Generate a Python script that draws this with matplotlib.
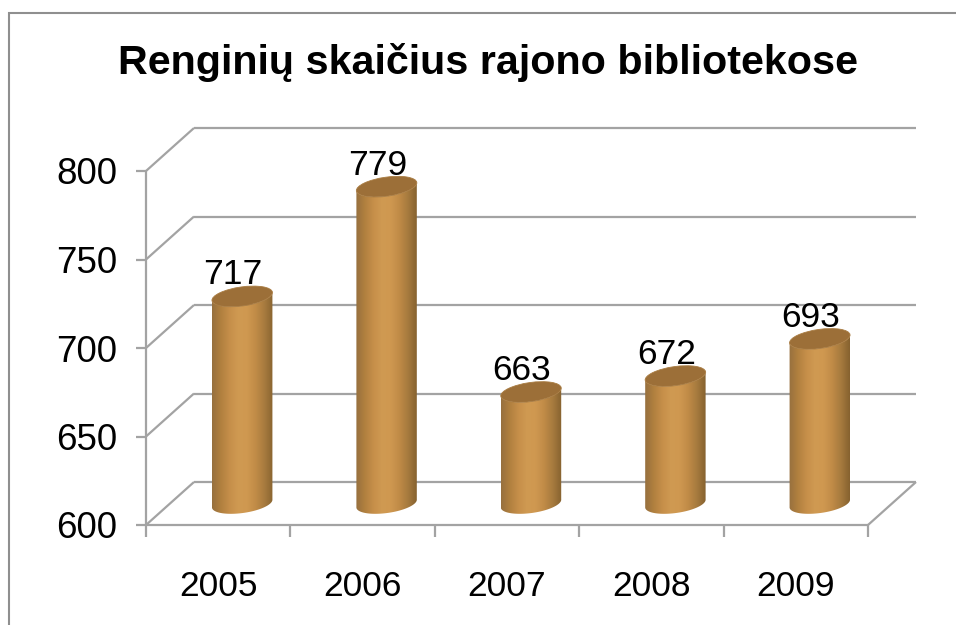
import numpy as np
import matplotlib
matplotlib.use("Agg")
import matplotlib.pyplot as plt
from matplotlib.patches import Ellipse, PathPatch
from matplotlib.path import Path
from matplotlib.colors import LinearSegmentedColormap
from matplotlib.transforms import IdentityTransform

years = ["2005", "2006", "2007", "2008", "2009"]
events = [717, 779, 663, 672, 693]
y_ticks = [600, 650, 700, 750, 800]
title = "Renginių skaičius rajono bibliotekose"

W, H = 956, 625
plt.rcParams["font.family"] = ["Liberation Sans", "DejaVu Sans"]
fig = plt.figure(figsize=(W / 100, H / 100), dpi=100)
fig.patch.set_facecolor("white")
L, R, T, B = 146, 868, 171, 525
ax = fig.add_axes([L / W, 1 - B / H, (R - L) / W, (B - T) / H])
ax.set_xlim(0, len(years))
ax.set_ylim(600, 800)
ax.axis("off")
ID = IdentityTransform()
GRID = "#a3a3a3"
DX, DY = 48, 43  # wall depth, pixels

# frame: only the top and left edges are visible
BX, BY = 8.5, H - 13
fig.add_artist(plt.Line2D([BX, BX, W], [0, BY, BY], color="#8f8f8f", lw=1.5,
                          transform=ID, solid_joinstyle="miter"))

def px(x, v):
    return ax.transData.transform((x, v))

def line(p, q, lw=1.6):
    ax.plot([p[0], q[0]], [p[1], q[1]], color=GRID, lw=lw, transform=ID,
            clip_on=False, solid_capstyle="butt")

# walls, gridlines and ticks
for v in y_ticks:
    f = px(0, v)
    bk = f + (DX, DY)
    br = px(len(years), v) + (DX, DY)
    line(f, bk)
    line(bk, br)
    line(f - (10, 0), f)
    fig.text((f[0] - 29) / W, f[1] / H, str(v), ha="right", va="center_baseline",
             fontsize=26.5, color="black")
line(px(0, 600), px(0, 800))
line(px(0, 600), px(len(years), 600))
line(px(len(years), 600), px(len(years), 600) + (DX, DY))
for i in range(len(years) + 1):
    p = px(i, 600)
    line(p, p - (0, 12))
for i, y in enumerate(years):
    p = px(i + 0.5, 600)
    fig.text(p[0] / W, (p[1] - 58) / H, y, ha="center", va="center_baseline",
             fontsize=25.5, color="black")

# cylinders
cmap = LinearSegmentedColormap.from_list(
    "cyl", ["#97703e", "#b1803f", "#c68f4a", "#d09a52", "#cf9850", "#c08b47", "#a67a3e", "#86622f"])
grad = np.linspace(0, 1, 128).reshape(1, -1)
RW, RH, ANG = 30.5, 9.5, 8.0
ca, sa = np.cos(np.radians(ANG)), np.sin(np.radians(ANG))

def ell(cx, cy, t):
    return np.column_stack([cx + RW * np.cos(t) * ca - RH * np.sin(t) * sa,
                            cy + RW * np.cos(t) * sa + RH * np.sin(t) * ca])

for i, (y, v) in enumerate(zip(years, events)):
    base = px(i + 0.5, 600) + (DX / 2, DY / 2)
    top = px(i + 0.5, v) + (DX / 2, DY / 2)
    cx = base[0]
    t = np.linspace(np.pi, 2 * np.pi, 60)
    lower = ell(cx, base[1], t)
    upper = ell(cx, top[1], t)[::-1]
    verts = np.vstack([lower, upper, lower[:1]])
    im = ax.imshow(grad, cmap=cmap, aspect="auto", transform=ID,
                   extent=(cx - RW, cx + RW, base[1] - 14, top[1] + 14),
                   interpolation="bilinear", zorder=3, clip_on=True)
    im.set_clip_path(PathPatch(Path(verts), transform=ID))
    ax.add_patch(Ellipse(top, 2 * RW, 2 * RH, angle=ANG, fc="#9c6f38", ec="#a97c42",
                         lw=0.6, transform=ID, zorder=4, clip_on=False))
    fig.text((top[0] - 9) / W, (top[1] + 25) / H, str(v), ha="center", va="center_baseline",
             fontsize=25.5, color="black", zorder=6)
ax.set_xlim(0, len(years))
ax.set_ylim(600, 800)

fig.text(488 / W, 1 - 74 / H, title, ha="center", va="baseline",
         fontsize=29.7, fontweight="bold", color="black")
fig.savefig("out.png", dpi=100, facecolor="white")
